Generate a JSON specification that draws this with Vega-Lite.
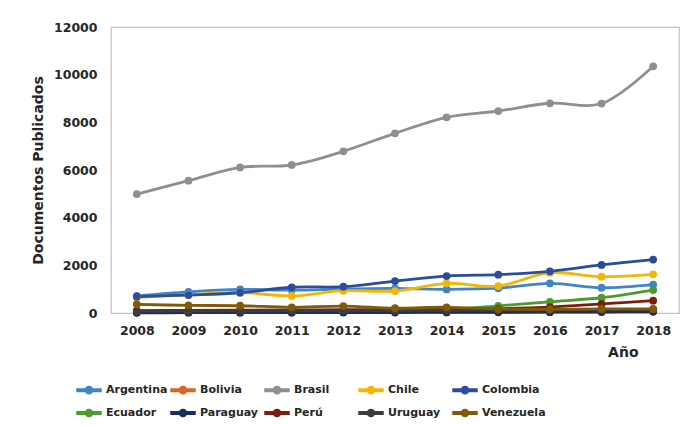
{
  "$schema": "https://vega.github.io/schema/vega-lite/v6.json",
  "autosize": "none",
  "width": 568,
  "height": 286,
  "padding": {"left": 111, "top": 27, "right": 9, "bottom": 112},
  "background": "white",
  "config": {
    "font": "DejaVu Sans",
    "view": {"stroke": "#c4c4c4", "strokeWidth": 1.2},
    "axis": {"grid": false, "domain": false, "ticks": false, "labelFont": "DejaVu Sans", "labelFontWeight": "bold", "labelFontSize": 12.5, "labelColor": "#262626", "titleFont": "DejaVu Sans", "titleFontWeight": "bold", "titleFontSize": 14, "titleColor": "#262626"},
    "legend": {"labelFont": "DejaVu Sans", "labelFontWeight": "bold", "labelFontSize": 11, "labelColor": "#262626", "padding": 0}
  },
  "data": {"values": [
    {"country": "Argentina", "year": "2008", "value": 720},
    {"country": "Argentina", "year": "2009", "value": 890},
    {"country": "Argentina", "year": "2010", "value": 990},
    {"country": "Argentina", "year": "2011", "value": 960},
    {"country": "Argentina", "year": "2012", "value": 1000},
    {"country": "Argentina", "year": "2013", "value": 1030},
    {"country": "Argentina", "year": "2014", "value": 990},
    {"country": "Argentina", "year": "2015", "value": 1040},
    {"country": "Argentina", "year": "2016", "value": 1245},
    {"country": "Argentina", "year": "2017", "value": 1060},
    {"country": "Argentina", "year": "2018", "value": 1190},
    {"country": "Bolivia", "year": "2008", "value": 20},
    {"country": "Bolivia", "year": "2009", "value": 25},
    {"country": "Bolivia", "year": "2010", "value": 30},
    {"country": "Bolivia", "year": "2011", "value": 30},
    {"country": "Bolivia", "year": "2012", "value": 35},
    {"country": "Bolivia", "year": "2013", "value": 40},
    {"country": "Bolivia", "year": "2014", "value": 45},
    {"country": "Bolivia", "year": "2015", "value": 50},
    {"country": "Bolivia", "year": "2016", "value": 55},
    {"country": "Bolivia", "year": "2017", "value": 60},
    {"country": "Bolivia", "year": "2018", "value": 70},
    {"country": "Brasil", "year": "2008", "value": 4990},
    {"country": "Brasil", "year": "2009", "value": 5550},
    {"country": "Brasil", "year": "2010", "value": 6110},
    {"country": "Brasil", "year": "2011", "value": 6210},
    {"country": "Brasil", "year": "2012", "value": 6785},
    {"country": "Brasil", "year": "2013", "value": 7540},
    {"country": "Brasil", "year": "2014", "value": 8210},
    {"country": "Brasil", "year": "2015", "value": 8475},
    {"country": "Brasil", "year": "2016", "value": 8800},
    {"country": "Brasil", "year": "2017", "value": 8790},
    {"country": "Brasil", "year": "2018", "value": 10350},
    {"country": "Chile", "year": "2008", "value": 650},
    {"country": "Chile", "year": "2009", "value": 770},
    {"country": "Chile", "year": "2010", "value": 860},
    {"country": "Chile", "year": "2011", "value": 715},
    {"country": "Chile", "year": "2012", "value": 935},
    {"country": "Chile", "year": "2013", "value": 920},
    {"country": "Chile", "year": "2014", "value": 1245},
    {"country": "Chile", "year": "2015", "value": 1130},
    {"country": "Chile", "year": "2016", "value": 1690},
    {"country": "Chile", "year": "2017", "value": 1525},
    {"country": "Chile", "year": "2018", "value": 1625},
    {"country": "Colombia", "year": "2008", "value": 690},
    {"country": "Colombia", "year": "2009", "value": 755},
    {"country": "Colombia", "year": "2010", "value": 850},
    {"country": "Colombia", "year": "2011", "value": 1080},
    {"country": "Colombia", "year": "2012", "value": 1105},
    {"country": "Colombia", "year": "2013", "value": 1340},
    {"country": "Colombia", "year": "2014", "value": 1550},
    {"country": "Colombia", "year": "2015", "value": 1610},
    {"country": "Colombia", "year": "2016", "value": 1750},
    {"country": "Colombia", "year": "2017", "value": 2015},
    {"country": "Colombia", "year": "2018", "value": 2240},
    {"country": "Ecuador", "year": "2008", "value": 60},
    {"country": "Ecuador", "year": "2009", "value": 70},
    {"country": "Ecuador", "year": "2010", "value": 80},
    {"country": "Ecuador", "year": "2011", "value": 90},
    {"country": "Ecuador", "year": "2012", "value": 100},
    {"country": "Ecuador", "year": "2013", "value": 120},
    {"country": "Ecuador", "year": "2014", "value": 150},
    {"country": "Ecuador", "year": "2015", "value": 300},
    {"country": "Ecuador", "year": "2016", "value": 470},
    {"country": "Ecuador", "year": "2017", "value": 640},
    {"country": "Ecuador", "year": "2018", "value": 960},
    {"country": "Paraguay", "year": "2008", "value": 10},
    {"country": "Paraguay", "year": "2009", "value": 12},
    {"country": "Paraguay", "year": "2010", "value": 15},
    {"country": "Paraguay", "year": "2011", "value": 15},
    {"country": "Paraguay", "year": "2012", "value": 18},
    {"country": "Paraguay", "year": "2013", "value": 20},
    {"country": "Paraguay", "year": "2014", "value": 25},
    {"country": "Paraguay", "year": "2015", "value": 30},
    {"country": "Paraguay", "year": "2016", "value": 35},
    {"country": "Paraguay", "year": "2017", "value": 40},
    {"country": "Paraguay", "year": "2018", "value": 50},
    {"country": "Perú", "year": "2008", "value": 100},
    {"country": "Perú", "year": "2009", "value": 110},
    {"country": "Perú", "year": "2010", "value": 120},
    {"country": "Perú", "year": "2011", "value": 130},
    {"country": "Perú", "year": "2012", "value": 140},
    {"country": "Perú", "year": "2013", "value": 150},
    {"country": "Perú", "year": "2014", "value": 160},
    {"country": "Perú", "year": "2015", "value": 180},
    {"country": "Perú", "year": "2016", "value": 250},
    {"country": "Perú", "year": "2017", "value": 380},
    {"country": "Perú", "year": "2018", "value": 515},
    {"country": "Uruguay", "year": "2008", "value": 80},
    {"country": "Uruguay", "year": "2009", "value": 85},
    {"country": "Uruguay", "year": "2010", "value": 90},
    {"country": "Uruguay", "year": "2011", "value": 95},
    {"country": "Uruguay", "year": "2012", "value": 100},
    {"country": "Uruguay", "year": "2013", "value": 105},
    {"country": "Uruguay", "year": "2014", "value": 110},
    {"country": "Uruguay", "year": "2015", "value": 120},
    {"country": "Uruguay", "year": "2016", "value": 130},
    {"country": "Uruguay", "year": "2017", "value": 140},
    {"country": "Uruguay", "year": "2018", "value": 150},
    {"country": "Venezuela", "year": "2008", "value": 365},
    {"country": "Venezuela", "year": "2009", "value": 320},
    {"country": "Venezuela", "year": "2010", "value": 305},
    {"country": "Venezuela", "year": "2011", "value": 240},
    {"country": "Venezuela", "year": "2012", "value": 290},
    {"country": "Venezuela", "year": "2013", "value": 200},
    {"country": "Venezuela", "year": "2014", "value": 240},
    {"country": "Venezuela", "year": "2015", "value": 165},
    {"country": "Venezuela", "year": "2016", "value": 155},
    {"country": "Venezuela", "year": "2017", "value": 170},
    {"country": "Venezuela", "year": "2018", "value": 170}
  ]},
  "mark": {"type": "line", "interpolate": "catmull-rom", "strokeWidth": 2.8, "point": {"filled": true, "size": 60}},
  "encoding": {
    "x": {"field": "year", "type": "ordinal", "scale": {"type": "point", "padding": 0.5}, "axis": {"labelAngle": 0, "labelPadding": 11, "title": "Año", "titleAlign": "right", "titleX": 527, "titleY": 39, "titleBaseline": "middle"}},
    "y": {"field": "value", "type": "quantitative", "scale": {"domain": [0, 12000], "nice": false}, "axis": {"values": [0, 2000, 4000, 6000, 8000, 10000, 12000], "format": "d", "labelPadding": 14, "title": "Documentos Publicados", "titlePadding": 8}},
    "color": {"field": "country", "type": "nominal",
      "scale": {"domain": ["Argentina", "Bolivia", "Brasil", "Chile", "Colombia", "Ecuador", "Paraguay", "Perú", "Uruguay", "Venezuela"],
                "range": ["#3f86c6", "#d9661f", "#8f8f8f", "#f2b705", "#2a4d9e", "#4e9a2e", "#1c2c5c", "#7a1f10", "#3d3d3d", "#7f5a0a"]},
      "legend": {"title": null, "orient": "none", "legendX": -35, "legendY": 350, "direction": "horizontal", "columns": 5, "gridAlign": "all", "columnPadding": -5.5, "rowPadding": 3, "symbolType": "M-1,-0.1H-0.25V0.1H-1ZM0.25,-0.1H1V0.1H0.25ZM0.3,0A0.3,0.3,0,1,1,-0.3,0A0.3,0.3,0,1,1,0.3,0Z", "symbolSize": 576, "labelOffset": 4,
        "encode": {"symbols": {"update": {"shape": {"value": "M-1,-0.1H-0.25V0.1H-1ZM0.25,-0.1H1V0.1H0.25ZM0.3,0A0.3,0.3,0,1,1,-0.3,0A0.3,0.3,0,1,1,0.3,0Z"}, "size": {"value": 576}, "fill": {"scale": "color", "field": "value"}, "fillOpacity": {"value": 1}, "opacity": {"value": 1}}}}}
    }
  }
}
